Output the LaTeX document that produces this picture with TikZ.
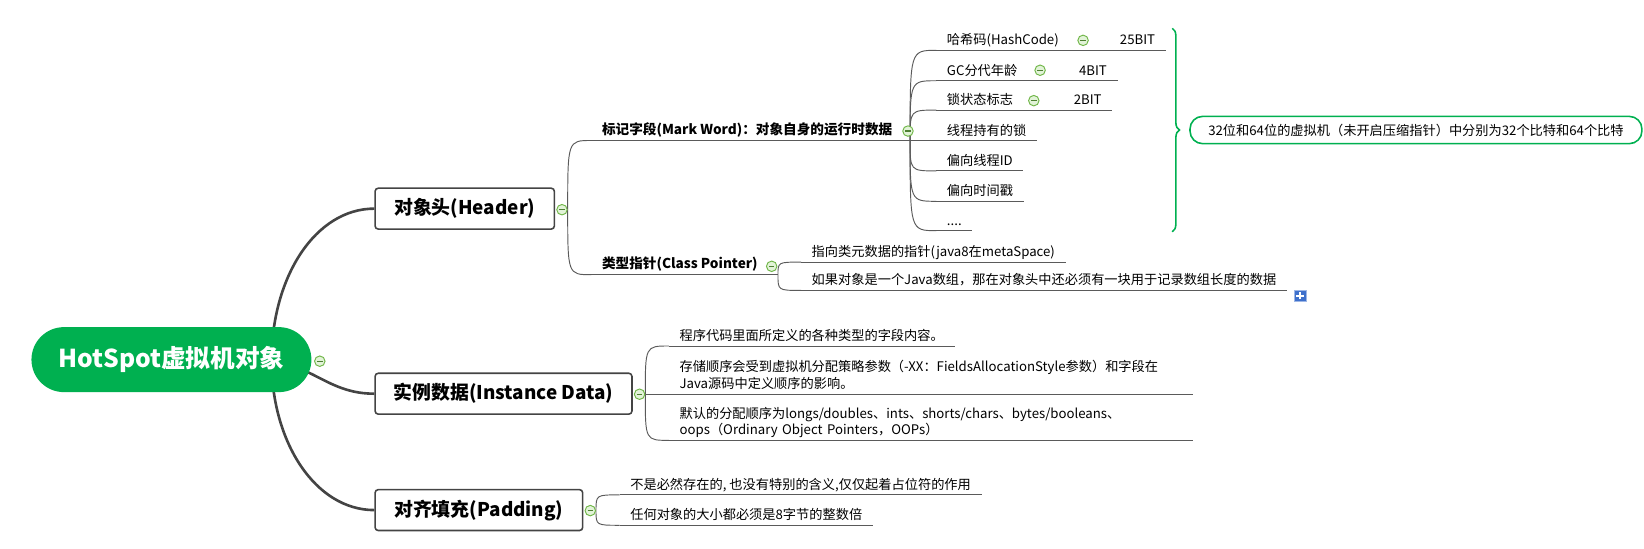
\documentclass[tikz,border=0pt]{standalone}
\usepackage{fontspec}
\setmainfont{Noto Sans CJK SC}
\usetikzlibrary{backgrounds,decorations.pathreplacing}

\definecolor{rootgreen}{RGB}{0,176,80}
\definecolor{linegray}{RGB}{68,68,68}
\definecolor{twiggray}{RGB}{90,90,90}
\definecolor{foldgreen}{RGB}{112,182,72}
\definecolor{foldfill}{RGB}{226,243,216}
\definecolor{plusblue}{RGB}{62,112,204}

\tikzset{
  root/.style={rounded corners=31pt, fill=rootgreen, text=white,
    font=\fontsize{23.5}{28}\selectfont\bfseries,
    minimum width=267pt, minimum height=62pt, inner sep=0pt},
  topic/.style={draw=linegray, line width=1.5pt, rounded corners=3pt, fill=white,
    font=\fontsize{18}{22}\selectfont\bfseries,
    minimum height=39pt, inner sep=0pt, anchor=west},
  sub/.style={anchor=south west, inner xsep=10pt, inner ysep=2pt,
    text height=10pt, text depth=3.5pt, font=\fontsize{13}{16}\selectfont\bfseries},
  leaf/.style={anchor=south west, inner xsep=10pt, inner ysep=2pt,
    text height=9.5pt, text depth=3pt, font=\fontsize{12.6}{16}\selectfont},
  para/.style={anchor=south west, inner xsep=10pt, inner ysep=0.3pt,
    text width=479pt, align=left, font=\fontsize{12.6}{16}\selectfont},
  note/.style={draw=rootgreen, line width=1.5pt, rounded corners=12pt,
    minimum width=431pt, minimum height=26pt, inner sep=0pt,
    font=\fontsize{12.6}{16}\selectfont},
  trunk/.style={draw=linegray, line width=2.5pt},
  twig/.style={draw=twiggray, line width=0.9pt},
  brace/.style={draw=rootgreen, line width=1.5pt, decorate,
    decoration={brace, amplitude=7pt}},
  fold/.style={circle, draw=foldgreen, fill=foldfill, line width=0.9pt,
    minimum size=10pt, inner sep=0pt,
    path picture={\draw[foldgreen!70!black, line width=1.2pt]
      ([xshift=-2.6pt]path picture bounding box.center) --
      ([xshift=2.6pt]path picture bounding box.center);}},
  expand/.style={draw=plusblue!50, fill=plusblue, minimum size=11pt, inner sep=0pt,
    path picture={\draw[white, line width=1.6pt]
      ([xshift=-3.5pt]path picture bounding box.center) --
      ([xshift=3.5pt]path picture bounding box.center)
      ([yshift=-3.5pt]path picture bounding box.center) --
      ([yshift=3.5pt]path picture bounding box.center);}}
}

\begin{document}
\begin{tikzpicture}[x=1pt, y=-1pt]
  \useasboundingbox (0,0) rectangle (1568,523.6);

  % main topics
  \coordinate (hub) at (259,344);
  \node[root] (root) at (163.5,343) {HotSpot虚拟机对象};
  \node[topic, minimum width=171pt] (header) at (357,199) {对象头(Header)};
  \node[topic, minimum width=245pt] (inst) at (357,375.5) {实例数据(Instance Data)};
  \node[topic, minimum width=198pt] (pad) at (357,486.5) {对齐填充(Padding)};

  \node[fold] (f0) at (305,344.5) {};
  \node[fold] (f1) at (536,200) {};
  \node[fold] (f2) at (610,376) {};
  \node[fold] (f3) at (563,487) {};

  % object header
  \node[sub] (mark) at (564,134) {标记字段(Mark Word)：对象自身的运行时数据};
  \node[sub] (klass) at (564,262) {类型指针(Class Pointer)};
  \coordinate (mwfan) at (868,134);
  \coordinate (clfan) at (742,262);
  \node[fold] (f4) at (866,125) {};
  \node[fold] (f5) at (736,254) {};

  \node[leaf] (hash)  at (893,48)  {哈希码(HashCode)};
  \node[leaf] (gc)    at (893,77)  {GC分代年龄};
  \node[leaf] (lock)  at (893,105) {锁状态标志};
  \node[leaf] (own)   at (893,134) {线程持有的锁};
  \node[leaf] (tid)   at (893,163) {偏向线程ID};
  \node[leaf] (stamp) at (893,192) {偏向时间戳};
  \node[leaf] (dots)  at (893,220) {....};

  \node[fold] (f6) at (1033,38.5) {};
  \node[fold] (f7) at (992,67) {};
  \node[fold] (f8) at (986,96) {};
  \node[leaf] (b25) at (1058,48)  {25BIT};
  \node[leaf] (b4)  at (1019,77)  {4BIT};
  \node[leaf] (b2)  at (1014,105) {2BIT};

  \coordinate (btop) at (1118,27);
  \coordinate (bbot) at (1118,221);
  \draw[brace] (btop) -- (bbot);
  \node[note] (note) at (1350.5,124) {32位和64位的虚拟机（未开启压缩指针）中分别为32个比特和64个比特};

  \node[leaf] (vptr) at (764,250) {指向类元数据的指针(java8在metaSpace)};
  \node[leaf] (arr)  at (764,277) {如果对象是一个Java数组，那在对象头中还必须有一块用于记录数组长度的数据};
  \node[expand] (more) at (1240,282) {};

  % instance data
  \node[leaf] (i1) at (638,330) {程序代码里面所定义的各种类型的字段内容。};
  \node[para] (i2) at (638,376) {存储顺序会受到虚拟机分配策略参数（-XX：FieldsAllocationStyle参数）和字段在\\Java源码中定义顺序的影响。\strut};
  \node[para] (i3) at (638,420) {默认的分配顺序为longs/doubles、ints、shorts/chars、bytes/booleans、\\oops（Ordinary Object Pointers，OOPs）\strut};

  % padding
  \node[leaf] (p1) at (591,472) {不是必然存在的, 也没有特别的含义,仅仅起着占位符的作用};
  \node[leaf] (p2) at (591,501) {任何对象的大小都必须是8字节的整数倍};

  \begin{scope}[on background layer]
    \draw[trunk] (hub) .. controls +(0,-80) and +(-56,0) .. (header.west);
    \draw[trunk] (hub) .. controls +(41,6) and +(-42,0) .. (inst.west);
    \draw[trunk] (hub) .. controls +(0,78) and +(-56,0) .. (pad.west);

    \foreach \c in {mark,klass}
      \draw[twig] (f1.east) .. controls (f1.east |- \c.south west) .. (\c.south west);
    \draw[twig] (mark.south west) -- (mwfan);
    \draw[twig] (klass.south west) -- (clfan);

    \foreach \c in {hash,gc,lock,own,tid,stamp,dots}
      \draw[twig] (mwfan) .. controls (mwfan |- \c.south west) .. (\c.south west);
    \foreach \c in {vptr,arr}
      \draw[twig] (clfan) .. controls (clfan |- \c.south west) .. (\c.south west);
    \foreach \c in {i1,i2,i3}
      \draw[twig] (f2.east) .. controls (f2.east |- \c.south west) .. (\c.south west);
    \foreach \c in {p1,p2}
      \draw[twig] (f3.east) .. controls (f3.east |- \c.south west) .. (\c.south west);

    \draw[twig] (hash.south west) -- (b25.south east);
    \draw[twig] (gc.south west) -- (b4.south east);
    \draw[twig] (lock.south west) -- (b2.south east);
    \foreach \c in {own,tid,stamp,dots,vptr,arr,i1,i2,i3,p1,p2}
      \draw[twig] (\c.south west) -- (\c.south east);
  \end{scope}
\end{tikzpicture}
\end{document}
